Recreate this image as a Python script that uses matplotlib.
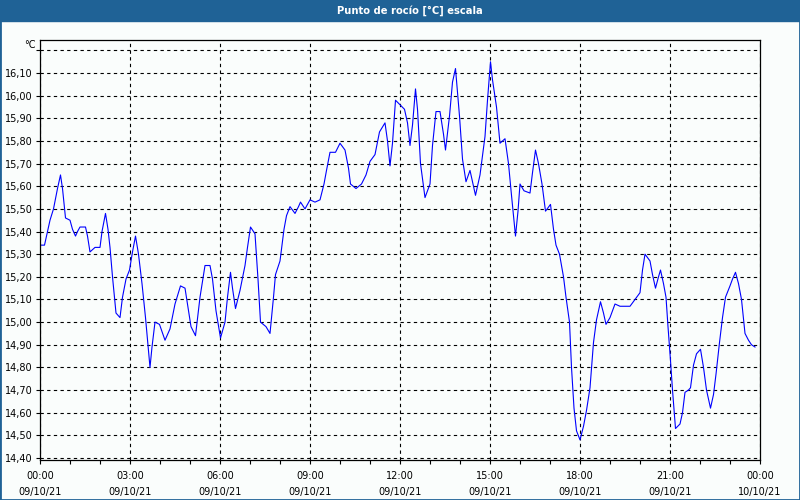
import matplotlib
matplotlib.use('Agg')
import matplotlib.pyplot as plt
import matplotlib.patches as mpatches
from matplotlib.ticker import FixedLocator, MultipleLocator

# minutes since 00:00 on 09/10/21 and dew point values in degC
minutes = [0, 9, 15, 20, 27, 35, 41, 45, 51, 60, 65, 71, 75, 80, 91, 95, 100, 110,
           120, 124, 131, 136, 140, 145, 152, 160, 165, 172, 179, 185, 191, 197, 204,
           211, 216, 220, 224, 230, 239,
           250, 260, 270, 281, 290, 297, 302, 311, 320, 330, 340, 345, 352, 361, 370,
           375, 381, 385, 391, 400, 410, 415, 421, 430, 436, 441, 452, 460, 467, 471,
           480, 488, 493, 500, 510, 517, 521, 530, 540, 550, 560, 568, 573, 580, 591,
           600, 610, 617, 621, 632, 643, 652, 660, 670, 679, 690, 695, 700, 705, 711,
           720, 729, 735, 740, 745, 751, 755, 761, 770, 780, 785, 792, 800, 807, 811,
           819, 825, 831, 839, 845, 852, 860, 865, 871, 880, 890, 895, 901, 905, 913,
           920, 930, 937, 943, 951, 956,
           960, 968, 980, 985, 991, 997, 1004, 1011, 1021, 1027, 1032, 1039, 1047,
           1052, 1059, 1063, 1068, 1073, 1080, 1087, 1093, 1100, 1107, 1113, 1121,
           1127, 1132, 1140, 1150, 1160, 1180, 1190,
           1200, 1205, 1210, 1220, 1225, 1231, 1237, 1241, 1247, 1252, 1256, 1261,
           1265, 1271, 1280, 1285, 1290, 1297, 1301, 1307, 1313, 1321, 1327, 1333,
           1341, 1347, 1352, 1359, 1365, 1371, 1380, 1385, 1391, 1397, 1403, 1410,
           1417, 1423, 1430]
dew_point = [15.34, 15.34, 15.40, 15.45, 15.50, 15.59, 15.65, 15.59, 15.46, 15.45,
             15.41, 15.38, 15.40, 15.42, 15.42, 15.38, 15.31, 15.33, 15.33, 15.40,
             15.48, 15.41, 15.33, 15.20, 15.04, 15.02, 15.11, 15.19, 15.23, 15.31,
             15.38, 15.30, 15.17, 15.02, 14.90, 14.80, 14.89, 15.00, 14.99,
             14.92, 14.97, 15.08, 15.16, 15.15, 15.05, 14.98, 14.94, 15.11, 15.25,
             15.25, 15.19, 15.05, 14.93, 15.00, 15.11, 15.22, 15.15, 15.06, 15.14,
             15.25, 15.33, 15.42, 15.39, 15.19, 15.00, 14.98, 14.95, 15.11, 15.21,
             15.27, 15.41, 15.47, 15.51, 15.48, 15.51, 15.53, 15.50, 15.54, 15.53,
             15.54, 15.61, 15.67, 15.75, 15.75, 15.79, 15.76, 15.68, 15.61, 15.59,
             15.61, 15.65, 15.71, 15.74, 15.84, 15.88, 15.80, 15.69, 15.79, 15.98,
             15.96, 15.94, 15.88, 15.78, 15.87, 16.03, 15.94, 15.70, 15.55, 15.61,
             15.78, 15.93, 15.93, 15.83, 15.76, 15.91, 16.06, 16.12, 15.91, 15.72,
             15.62, 15.67, 15.62, 15.56, 15.65, 15.82, 15.98, 16.15, 16.07, 15.95,
             15.79, 15.81, 15.70, 15.56, 15.38, 15.49,
             15.61, 15.58, 15.57, 15.66, 15.76, 15.70, 15.61, 15.49, 15.52, 15.41,
             15.34, 15.30, 15.20, 15.11, 15.00, 14.80, 14.62, 14.52, 14.48, 14.54,
             14.61, 14.71, 14.91, 15.01, 15.09, 15.04, 14.99, 15.02, 15.08, 15.07,
             15.07, 15.10,
             15.13, 15.23, 15.30, 15.27, 15.21, 15.15, 15.20, 15.23, 15.17, 15.11,
             14.98, 14.83, 14.70, 14.53, 14.55, 14.60, 14.69, 14.70, 14.71, 14.81,
             14.86, 14.88, 14.80, 14.70, 14.62, 14.68, 14.77, 14.91, 15.02, 15.11,
             15.16, 15.19, 15.22, 15.17, 15.10, 14.95, 14.92, 14.90, 14.89]

x_ticks = [0, 180, 360, 540, 720, 900, 1080, 1260, 1440]
x_labels = ['00:00\n09/10/21', '03:00\n09/10/21', '06:00\n09/10/21',
            '09:00\n09/10/21', '12:00\n09/10/21', '15:00\n09/10/21',
            '18:00\n09/10/21', '21:00\n09/10/21', '00:00\n10/10/21']
y_ticks = [14.4 + 0.1 * i for i in range(19)]
y_labels = [f'{v:.2f}'.replace('.', ',') for v in y_ticks[:-1]] + ['']

bg = '#FAFDFC'
frame_blue = '#1F6296'

fig = plt.figure(figsize=(8, 5), dpi=100, facecolor=bg)
ax = fig.add_axes([40 / 800, 40 / 500, 720 / 800, 420 / 500])
ax.set_facecolor(bg)

ax.plot(minutes, dew_point, color='#0000FF', linewidth=0.8)

ax.set_xlim(0, 1440)
ax.set_ylim(14.391, 16.246)
ax.xaxis.set_major_locator(FixedLocator(x_ticks))
ax.set_xticklabels(x_labels, linespacing=1.75)
ax.xaxis.set_minor_locator(MultipleLocator(60))
ax.yaxis.set_major_locator(FixedLocator(y_ticks))
ax.set_yticklabels(y_labels)

ax.tick_params(axis='both', which='both', direction='out', length=3, width=0.8,
               color='black', labelsize=7, labelcolor='black')
ax.tick_params(axis='x', pad=5)
ax.tick_params(axis='y', pad=2)
ax.grid(True, which='major', color='black', linestyle=(0, (3, 3)), linewidth=0.8)
for s in ax.spines.values():
    s.set_color('black')
    s.set_linewidth(0.9)

# unit label in place of the top tick label
fig.text(36 / 800, 1 - 45 / 500, '°C', ha='right', va='center', fontsize=7)

# title bar
fig.patches.append(mpatches.Rectangle((0, 1 - 21 / 500), 1, 21 / 500,
                                      transform=fig.transFigure, color=frame_blue, zorder=0))
fig.text(410 / 800, 1 - 10.5 / 500, 'Punto de rocío [°C] escala', ha='center', va='center',
         color='white', fontsize=7.2, fontweight='bold')
fig.patches.append(mpatches.Rectangle((0, 0), 1, 1, transform=fig.transFigure,
                                      fill=False, edgecolor=frame_blue, linewidth=2))

fig.savefig('out.png', dpi=100, facecolor=bg)
